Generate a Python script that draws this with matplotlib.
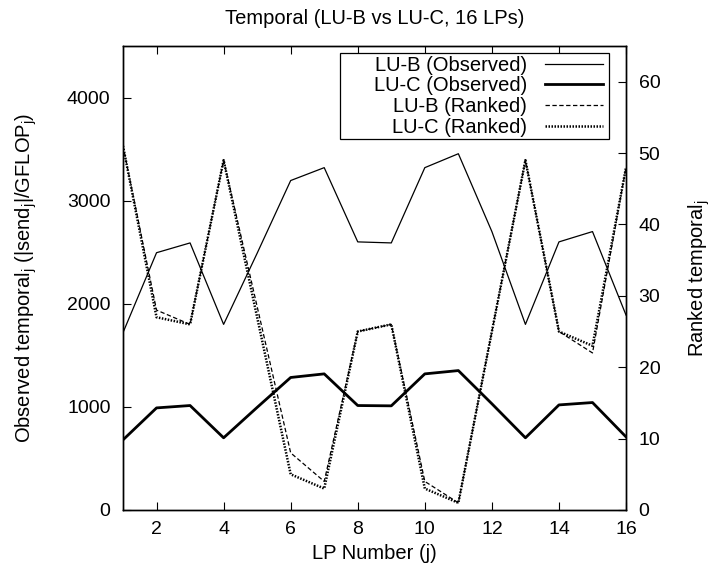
import numpy as np
import matplotlib
matplotlib.use("Agg")
import matplotlib.pyplot as plt
from matplotlib.patches import Rectangle

plt.rcParams['font.family'] = ['Liberation Sans', 'DejaVu Sans']
plt.rcParams['font.size'] = 14.5

# LP numbers
lp = [1, 2, 3, 4, 5, 6, 7, 8, 9, 10, 11, 12, 13, 14, 15, 16]

# observed temporal (left axis)
lub_obs = [1720, 2495, 2590, 1800, 2490, 3195, 3320, 2600, 2590, 3320, 3455, 2700, 1800, 2600, 2700, 1890]
luc_obs = [680, 990, 1013, 700, 995, 1285, 1320, 1013, 1010, 1320, 1352, 1030, 700, 1019, 1042, 709]

# ranked temporal (right axis)
lub_rank = [51, 28, 26, 49, 28.5, 8, 4, 25, 26, 4, 1, 25, 49, 25, 22, 48]
luc_rank = [51, 27, 26, 49, 27, 5, 3, 25, 26, 3, 1, 25, 49, 25, 23, 48]

fig = plt.figure(figsize=(7.11, 5.79), dpi=100)
ax = fig.add_axes([0.173, 0.1192, 0.7075, 0.8014])
ax2 = ax.twinx()

l1, = ax.plot(lp, lub_obs, color='black', lw=0.9, label='LU-B (Observed)')
l2, = ax.plot(lp, luc_obs, color='black', lw=2.0, label='LU-C (Observed)')
l3, = ax2.plot(lp, lub_rank, color='black', lw=0.9, ls=(0, (3.5, 2)), label='LU-B (Ranked)')
l4, = ax2.plot(lp, luc_rank, color='black', lw=1.8, ls=(0, (0.6, 0.6)), label='LU-C (Ranked)')

ax.set_xlim(1, 16)
ax.set_ylim(0, 4500)
ax2.set_ylim(0, 65)
ax.set_xticks(range(2, 17, 2))
ax.set_yticks(range(0, 4001, 1000))
ax2.set_yticks(range(0, 61, 10))

ax.tick_params(axis='x', direction='in', length=6, top=True, pad=8, labelsize=14)
ax.tick_params(axis='y', direction='in', length=6, pad=9, labelsize=14)
ax2.tick_params(axis='y', direction='in', length=6, pad=9, labelsize=14)

for a in (ax, ax2):
    for s in a.spines.values():
        s.set_linewidth(1.0)

ax.set_title('Temporal (LU-B vs LU-C, 16 LPs)', pad=16, fontsize=14.5)
ax.set_xlabel('LP Number (j)', labelpad=4)
ax.set_ylabel(r'Observed temporal$_\mathregular{j}$ (|send$_\mathregular{j}$|/GFLOP$_\mathregular{j}$)', labelpad=20)
ax2.set_ylabel(r'Ranked temporal$_\mathregular{j}$', labelpad=19)

# legend box (gnuplot style, wider than the entries)
box = Rectangle((0.431, 0.7996), 0.535, 0.1853, transform=ax2.transAxes,
                facecolor='white', edgecolor='black', lw=0.9, zorder=5)
ax2.add_patch(box)
leg = ax2.legend(handles=[l1, l2, l3, l4], loc='upper right',
                 bbox_to_anchor=(0.966, 0.992), borderaxespad=0,
                 markerfirst=False, frameon=False,
                 handlelength=2.85, labelspacing=0.08,
                 borderpad=0.3, handletextpad=0.9, fontsize=14.5)
leg.set_zorder(6)

fig.savefig('out.png', dpi=100)
